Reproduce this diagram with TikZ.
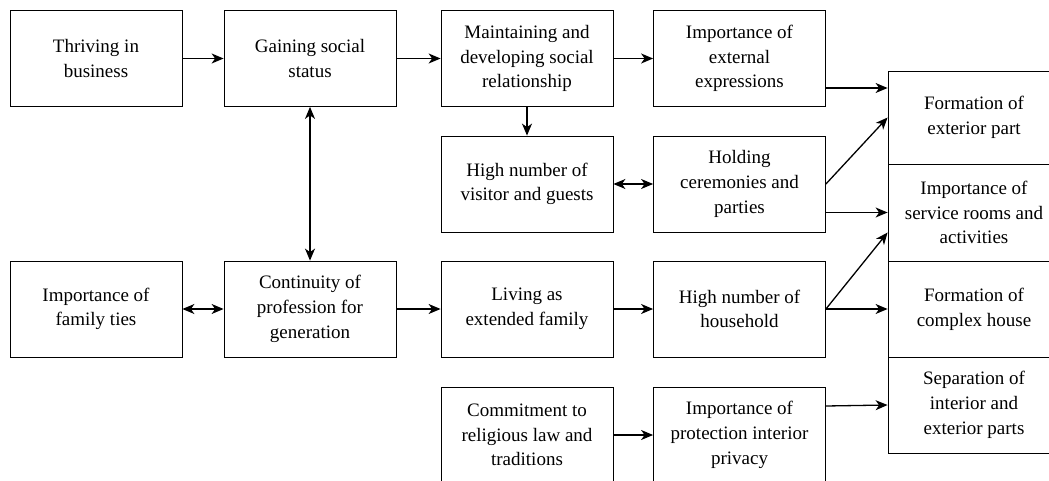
\documentclass[tikz,border=0pt]{standalone}
\usepackage{fontspec}
\setmainfont{Liberation Serif}
\usetikzlibrary{arrows.meta}

\begin{document}
\begin{tikzpicture}[
            x=1pt, y=-1pt,
            box/.style={draw, line width=0.8pt, minimum width=172pt, minimum height=96pt, align=center, inner sep=2pt,
                        font=\fontsize{19}{24.7}\selectfont},
            effect/.style={box, minimum width=172pt},
            line/.style={draw, line width=1.3pt, -{Stealth[length=12pt, width=10pt, inset=3.5pt]}},
            both/.style={line, {Stealth[length=12pt, width=10pt, inset=3.5pt]}-{Stealth[length=12pt, width=10pt, inset=3.5pt]}}
        ]
        \useasboundingbox (0,0) rectangle (1049,481);

        % Left columns
        \node[box] (thriving) at (96,58.5) {Thriving in\\business};
        \node[box] (gaining) at (310,58.5) {Gaining social\\status};
        \node[box] (family) at (96,309) {Importance of\\family ties};
        \node[box] (continuity) at (310,309) {Continuity of\\profession for\\generation};

        % Middle columns
        \node[box] (maintaining) at (527,58.5) {Maintaining and\\developing social\\relationship};
        \node[box] (external) at (739.5,58.5) {Importance of\\external\\expressions};
        \node[box] (visitors) at (527,184) {High number of\\visitor and guests};
        \node[box] (ceremonies) at (739.5,184) {Holding\\ceremonies and\\parties};
        \node[box] (extended) at (527,309) {Living as\\extended family};
        \node[box] (household) at (739.5,309) {High number of\\household};
        \node[box] (religion) at (527,435) {Commitment to\\religious law and\\traditions};
        \node[box] (privacy) at (739.5,435) {Importance of\\protection interior\\privacy};

        % Right column - outcomes
        \node[effect, minimum height=93pt] (exterior) at (974,117.5) {Formation of\\exterior part};
        \node[effect, minimum height=97pt] (service) at (974,212.5) {Importance of\\service rooms and\\activities};
        \node[effect] (complex) at (974,309) {Formation of\\complex house};
        \node[effect] (separation) at (974,405) {Separation of\\interior and\\exterior parts};

        \draw[line] (thriving) -- (gaining);
        \draw[line] (gaining) -- (maintaining);
        \draw[line] (maintaining) -- (external);
        \draw[line] (maintaining) -- (visitors);
        \draw[both] (visitors) -- (ceremonies);
        \draw[both] (gaining) -- (continuity);
        \draw[both] (family) -- (continuity);
        \draw[line] (continuity) -- (extended);
        \draw[line] (extended) -- (household);
        \draw[line] (religion) -- (privacy);

        \draw[line] ([yshift=-29.5pt]external.east) -- ([yshift=-29.5pt]external.east -| exterior.west);
        \draw[line] (ceremonies.east) -- (exterior.west);
        \draw[line] (ceremonies.east |- service.west) -- (service.west);
        \draw[line] (household.east) -- ([yshift=-20pt]service.west);
        \draw[line] (household.east) -- (complex.west);
        \draw[line] ([yshift=29pt]privacy.east) -- (separation.west);

    \end{tikzpicture}
\end{document}
